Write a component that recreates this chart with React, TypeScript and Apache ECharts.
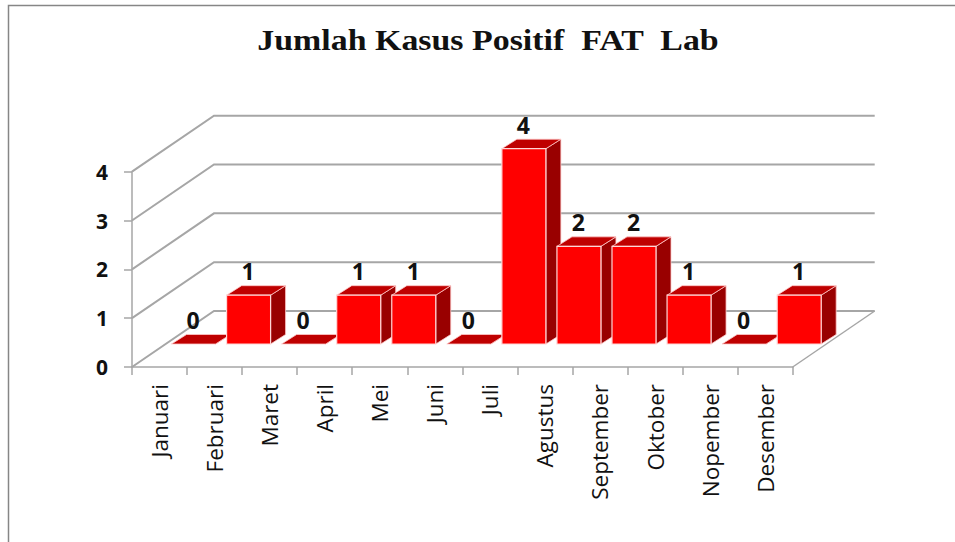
import React, { useEffect, useRef } from "react";
import * as echarts from "echarts";

const categories = ["Januari", "Februari", "Maret", "April", "Mei", "Juni", "Juli", "Agustus", "September", "Oktober", "Nopember", "Desember"];
const kasus = [0, 1, 0, 1, 1, 0, 4, 2, 2, 1, 0, 1];
const yTicks = [0, 1, 2, 3, 4];
const titleText = "Jumlah Kasus Positif  FAT  Lab";

const GRID = { left: 132, right: 792.7, top: 171.7, bottom: 367 };
const WALL_DX = 82;
const WALL_DY = -56;
const BAR_DX = 34;
const BAR_DY = -23;
const BAR_W = 44;
const DEPTH_DX = 15;
const DEPTH_DY = -9.5;
const GRID_COLOR = "#A6A6A6";

export default function App() {
  const ref = useRef<HTMLDivElement>(null);
  useEffect(() => {
    document.body.style.margin = "0";
    const chart = echarts.init(ref.current!, undefined, { renderer: "svg" });
    chart.setOption({
      animation: false,
      backgroundColor: "#ffffff",
      grid: { left: GRID.left, top: GRID.top, width: GRID.right - GRID.left, height: GRID.bottom - GRID.top },
      xAxis: {
        type: "category",
        data: categories,
        axisLine: { show: true, lineStyle: { color: GRID_COLOR, width: 1.5 } },
        axisTick: { show: true, length: 8, alignWithLabel: false, lineStyle: { color: GRID_COLOR, width: 1.5 } },
        axisLabel: { rotate: 90, interval: 0, margin: 17, fontFamily: "Open Sans", fontSize: 22.5, color: "#111111" },
      },
      yAxis: {
        type: "value",
        min: 0,
        max: 4,
        interval: 1,
        axisLine: { show: true, lineStyle: { color: GRID_COLOR, width: 1.5 } },
        axisTick: { show: true, length: 8, lineStyle: { color: GRID_COLOR, width: 1.5 } },
        axisLabel: { margin: 24, fontFamily: "Open Sans", fontWeight: "bold", fontSize: 21, color: "#111111" },
        splitLine: { show: false },
      },
      graphic: [
        { type: "rect", shape: { x: 8.5, y: 5.5, width: 960, height: 560 }, style: { fill: "none", stroke: "#868686", lineWidth: 1.5 }, z: -10 },
        {
          type: "text",
          x: 488,
          y: 40,
          scaleX: 1.13,
          style: {
            text: titleText,
            align: "center",
            verticalAlign: "middle",
            fontFamily: "Liberation Serif",
            fontWeight: "bold",
            fontSize: 30,
            fill: "#111111",
          },
        },
      ],
      series: [
        {
          type: "custom",
          name: "wall",
          silent: true,
          z: 1,
          data: yTicks,
          renderItem: (_p: any, api: any) => {
            const v = api.value(0);
            const [, y] = api.coord([0, v]);
            const pts = [
              [GRID.left, y],
              [GRID.left + WALL_DX, y + WALL_DY],
              [GRID.right + WALL_DX, y + WALL_DY],
            ];
            const children: any[] = [
              { type: "polyline", shape: { points: pts }, style: { fill: "none", stroke: GRID_COLOR, lineWidth: 2 } },
            ];
            if (v === 0) {
              children.push({
                type: "line",
                shape: { x1: GRID.right, y1: y, x2: GRID.right + WALL_DX, y2: y + WALL_DY },
                style: { stroke: GRID_COLOR, lineWidth: 1.5 },
              });
            }
            return { type: "group", children };
          },
          encode: { y: 0 },
        },
        {
          type: "custom",
          name: "Kasus",
          z: 3,
          data: kasus.map((v, i) => [i, v]),
          encode: { x: 0, y: 1 },
          renderItem: (_p: any, api: any) => {
            const i = api.value(0);
            const v = api.value(1);
            const [cx, y0] = api.coord([i, 0]);
            const [, yv] = api.coord([i, v]);
            const l = cx + BAR_DX - BAR_W / 2;
            const r = l + BAR_W;
            const b = y0 + BAR_DY;
            const t = yv + BAR_DY;
            const edge = "#FFC8C8";
            const children: any[] = [];
            children.push({
              type: "polygon",
              shape: { points: [[r, b], [r + DEPTH_DX, b + DEPTH_DY], [r + DEPTH_DX, t + DEPTH_DY], [r, t]] },
              style: { fill: "#990000", stroke: edge, lineWidth: 0.8 },
            });
            children.push({
              type: "polygon",
              shape: { points: [[l, t], [l + DEPTH_DX, t + DEPTH_DY], [r + DEPTH_DX, t + DEPTH_DY], [r, t]] },
              style: { fill: "#BF0000", stroke: edge, lineWidth: 0.8 },
            });
            if (v > 0) {
              children.push({
                type: "rect",
                shape: { x: l, y: t, width: BAR_W, height: b - t },
                style: { fill: "#FF0000", stroke: "#FFD6D6", lineWidth: 1.2 },
              });
            }
            children.push({
              type: "text",
              style: {
                text: String(v),
                x: (l + r) / 2 - 0.5,
                y: t + DEPTH_DY - 14.5,
                align: "center",
                verticalAlign: "middle",
                fontFamily: "Open Sans",
                fontWeight: "bold",
                fontSize: 23,
                fill: "#111111",
              },
            });
            return { type: "group", children };
          },
        },
      ],
    });
    return () => chart.dispose();
  }, []);
  return <div ref={ref} style={{ position: "absolute", left: 0, top: 0, width: 955, height: 542 }} />;
}
